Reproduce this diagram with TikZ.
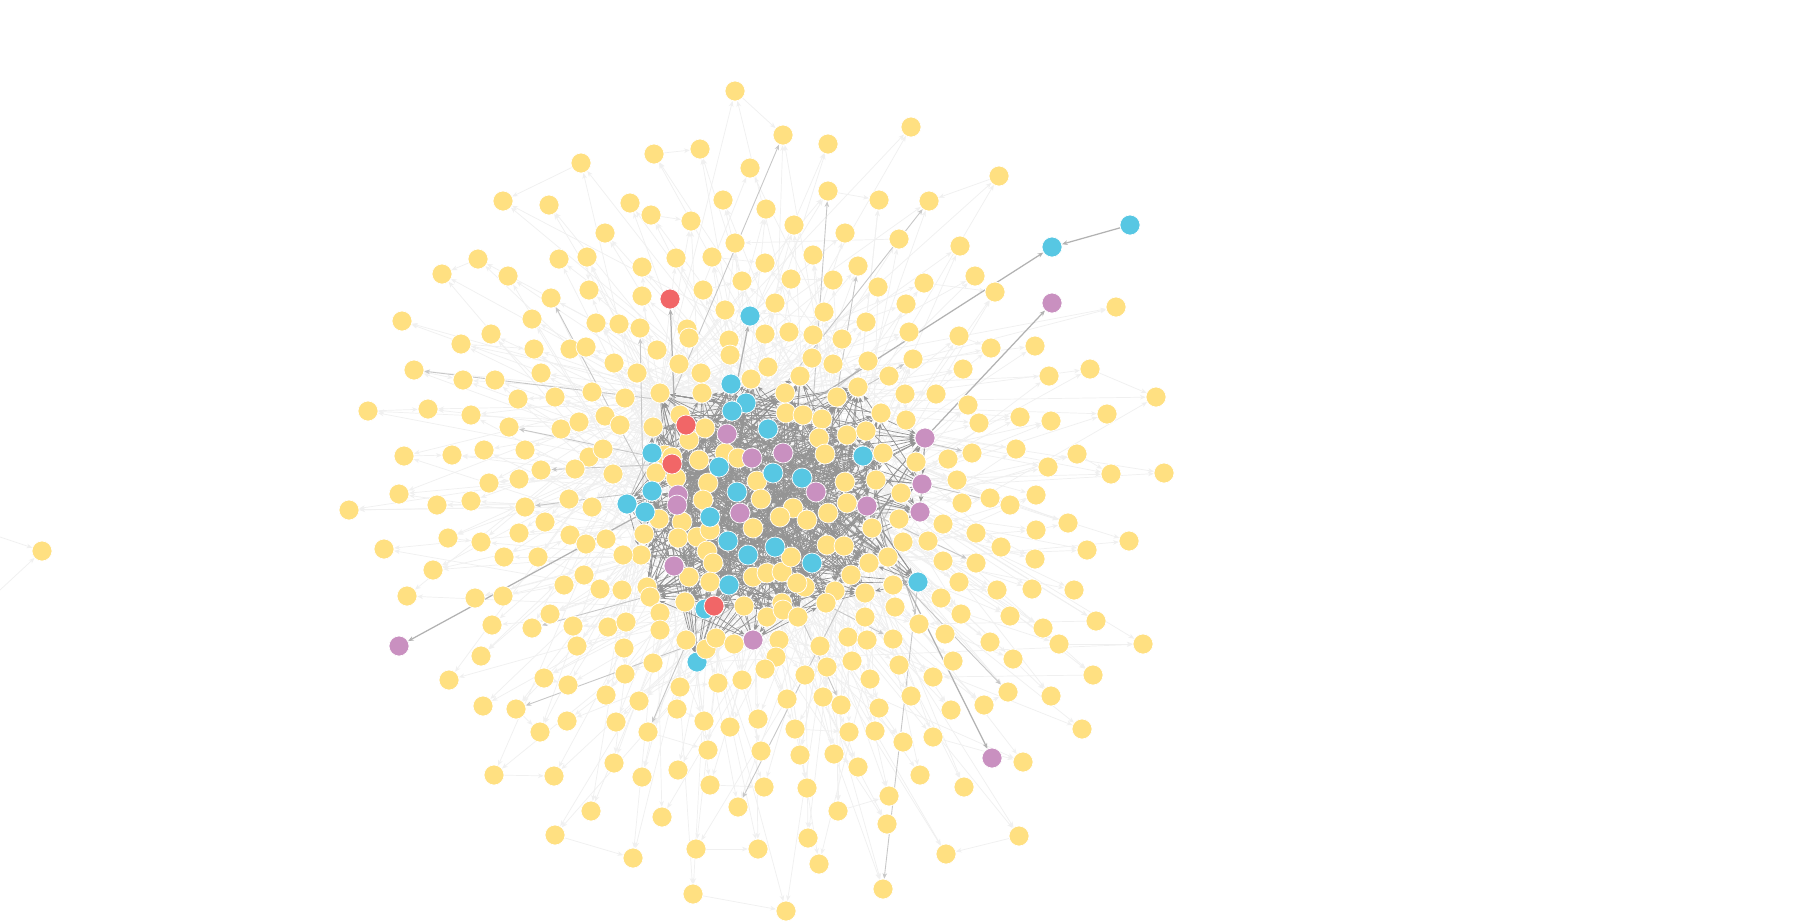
\documentclass[tikz,border=0pt]{standalone}
\usetikzlibrary{arrows.meta}
\definecolor{coly}{HTML}{FFE081}
\definecolor{colb}{HTML}{57C7E3}
\definecolor{colp}{HTML}{C990C0}
\definecolor{colr}{HTML}{F16667}
\pgfdeclarelayer{edges}
\pgfsetlayers{edges,main}

\begin{document}
\begin{tikzpicture}[x=0.01cm,y=-0.01cm,
  nd/.style={circle,fill=#1,draw=white,line width=0.2pt,minimum size=0.2cm,inner sep=0pt},
  tip/.style={-{Stealth[length=1.6pt,width=1.3pt]}},
  faint/.style={tip,draw=black!6,line width=0.2pt},
  mid/.style={tip,draw=black!22,line width=0.25pt},
  core/.style={tip,draw=black!42,line width=0.2pt},
  hot/.style={tip,draw=black!30,line width=0.35pt}]
\useasboundingbox (0,0) rectangle (1801,923);
% Core, yellow
\foreach \x/\y [count=\i] in {660/393,702/393,751/379,785/393,800/376,837/397,858/387,653/427,680/415,705/428,
689/440,786/413,803/415,822/419,819/438,847/435,866/431,881/413,825/454,883/453,665/455,672/457,656/473,
676/478,699/460,725/453,738/458,708/483,757/481,845/482,876/480,703/500,761/499,793/508,780/517,807/520,
828/513,847/503,872/528,659/519,682/522,644/534,678/538,697/537,710/530,753/528,641/555,707/551,713/563,
689/577,710/582,753/577,767/573,782/572,791/557,805/587,797/583,827/545,844/546,851/575,869/563,888/557,
647/587,650/597,685/602,744/606,782/603,767/617,783/610,798/617,835/591,826/603,865/593}{
\node[nd=coly] (c\i) at (\x,\y) {};
\xdef\nyel{\i}
}
% Core, coloured
\foreach \x/\y/\col/\nm [count=\i] in {731/384/b/b1,746/403/b/b2,732/411/b/b3,768/429/b/b4,652/453/b/b5,
719/467/b/b6,773/473/b/b7,802/478/b/b8,863/456/b/b9,652/491/b/b10,627/504/b/b11,645/512/b/b12,737/492/b/b13,
710/517/b/b14,728/541/b/b15,748/555/b/b16,775/547/b/b17,812/563/b/b18,729/585/b/b19,705/609/b/b20,
697/662/b/b21,918/582/b/b22,686/425/r/r1,672/464/r/r2,714/606/r/r3,727/434/p/p1,752/458/p/p2,783/453/p/p3,
816/492/p/p4,678/495/p/p5,677/505/p/p6,740/513/p/p7,867/506/p/p8,674/566/p/p9,753/640/p/p10,925/438/p/p11,
922/484/p/p12,920/512/p/p13}{
\pgfmathtruncatemacro\j{\i+\nyel}
\node[nd=col\col,alias=c\j] (\nm) at (\x,\y) {};
\xdef\ncore{\j}
}
% Rim
\foreach \x/\y [count=\i] in {581/163,503/201,549/205,605/233,478/259,442/274,508/276,559/259,587/257,589/290,
551/298,532/319,596/323,619/324,402/321,491/334,461/344,534/349,570/349,586/347,
735/91,783/135,828/144,911/127,654/154,700/149,750/168,630/203,651/215,691/221,723/200,766/209,828/191,
879/200,794/225,845/233,899/239,735/243,676/258,642/267,712/257,765/263,813/255,858/266,791/279,833/280,
878/287,642/296,703/290,742/281,775/303,824/312,866/322,725/310,640/328,687/329,689/338,729/340,765/334,
789/332,813/335,842/339,909/332,657/350,
999/176,929/201,960/246,975/276,924/283,995/292,1116/307,906/304,959/336,991/348,1035/346,
614/363,414/370,463/380,495/380,541/373,518/399,555/397,592/392,625/398,368/411,428/409,471/415,509/427,
561/429,579/422,605/416,620/425,404/456,452/455,484/450,525/450,589/457,603/449,541/470,575/469,613/474,
399/494,437/505,471/501,489/483,519/479,569/499,592/507,349/510,525/507,545/522,384/549,448/538,481/542,
519/533,504/557,538/557,570/535,586/544,606/539,623/555,433/570,407/596,475/598,503/596,564/585,584/575,
600/589,622/590,550/614,492/625,532/628,573/626,608/627,626/622,
730/355,679/364,637/373,701/373,768/367,812/358,833/364,868/361,889/376,905/394,906/420,901/493,899/519,
903/542,893/585,895/607,865/617,660/613,
913/359,963/369,1049/376,1090/369,1156/397,936/394,968/405,979/423,1020/417,1051/421,1107/414,972/453,
948/459,1016/449,1048/467,1077/454,1111/474,1164/473,916/462,957/480,962/503,990/498,1010/505,1036/495,
943/524,976/533,1001/547,1036/530,1068/523,1129/541,1087/550,928/541,943/561,976/563,1035/559,959/582,
997/590,1032/589,1074/590,941/598,961/614,1010/616,1043/628,1096/621,919/624,945/634,
577/646,624/648,625/674,481/656,449/680,544/678,568/685,606/695,483/706,516/709,540/732,567/721,616/722,
494/775,554/776,614/763,591/811,555/835,633/858,
660/630,686/640,706/649,716/638,734/644,779/640,776/657,765/669,653/663,820/646,848/637,867/640,893/639,
827/667,805/675,852/661,870/679,899/665,680/687,718/683,742/680,787/699,823/697,841/705,879/708,639/701,
677/709,704/721,730/727,758/719,795/729,849/732,875/731,903/742,648/732,708/750,761/751,800/755,834/754,
858/767,678/770,642/777,710/785,764/787,807/788,738/807,838/811,889/796,887/824,662/817,696/849,758/849,
808/838,819/864,693/894,786/911,883/889,
990/642,1059/644,1143/644,953/661,1013/659,1093/675,933/677,911/696,951/710,984/705,1008/692,1051/696,
1082/729,933/737,1023/762,920/775,964/787,1019/836,946/854}{
\node[nd=coly] (o\i) at (\x,\y) {};
\xdef\nout{\i}
}
% Loose ends
\node[nd=colb] (bt) at (750,316) {};
\node[nd=colr] (rt) at (670,299) {};
\node[nd=colb] (bne) at (1052,247) {};
\node[nd=colb] (bfar) at (1130,225) {};
\node[nd=colp] (pne) at (1052,303) {};
\node[nd=colp] (pw) at (399,646) {};
\node[nd=colp] (pse) at (992,758) {};
\node[nd=coly] (lone) at (42,551) {};
\coordinate (w1) at (0,537);
\coordinate (w2) at (0,590);

\begin{pgfonlayer}{edges}
\path[fill=white] (0,0) rectangle (1801,923);
% Spokes
\foreach \i in {1,...,\nout}{
\pgfmathtruncatemacro\ka{mod(\i*37,\ncore)+1}
\pgfmathtruncatemacro\kb{mod(\i*53+11,\ncore)+1}
\path[faint] (c\ka) -- (o\i);
\path[faint] (c\kb) -- (o\i);
\pgfmathtruncatemacro\rem{mod(\i,4)}
\pgfmathtruncatemacro\nx{\i+1}
\ifnum\rem=1 \ifnum\i<\nout \path[faint] (o\i) -- (o\nx);\fi\fi
}
\foreach \i in {11,22,...,\nout}{
\pgfmathtruncatemacro\ka{mod(\i*29,\ncore)+1}
\path[mid] (c\ka) -- (o\i);
}
% Mesh
\foreach \i in {1,...,\ncore}{
\foreach \k in {1,...,6}{
\pgfmathtruncatemacro\t{mod(\i*\k*7+\k*13,\ncore)+1}
\ifnum\t=\i\else\path[core] (c\i) -- (c\t);\fi
}}
% Long links
\path[hot] (bfar) -- (bne);
\path[hot] (b4) -- (bne);
\path[hot] (p11) -- (pne);
\path[hot] (b12) -- (pw);
\path[hot] (p8) -- (pse);
\path[hot] (p5) -- (rt);
\path[hot] (p1) -- (bt);
\path[faint] (w1) -- (lone);
\path[faint] (w2) -- (lone);
\end{pgfonlayer}
\end{tikzpicture}
\end{document}
